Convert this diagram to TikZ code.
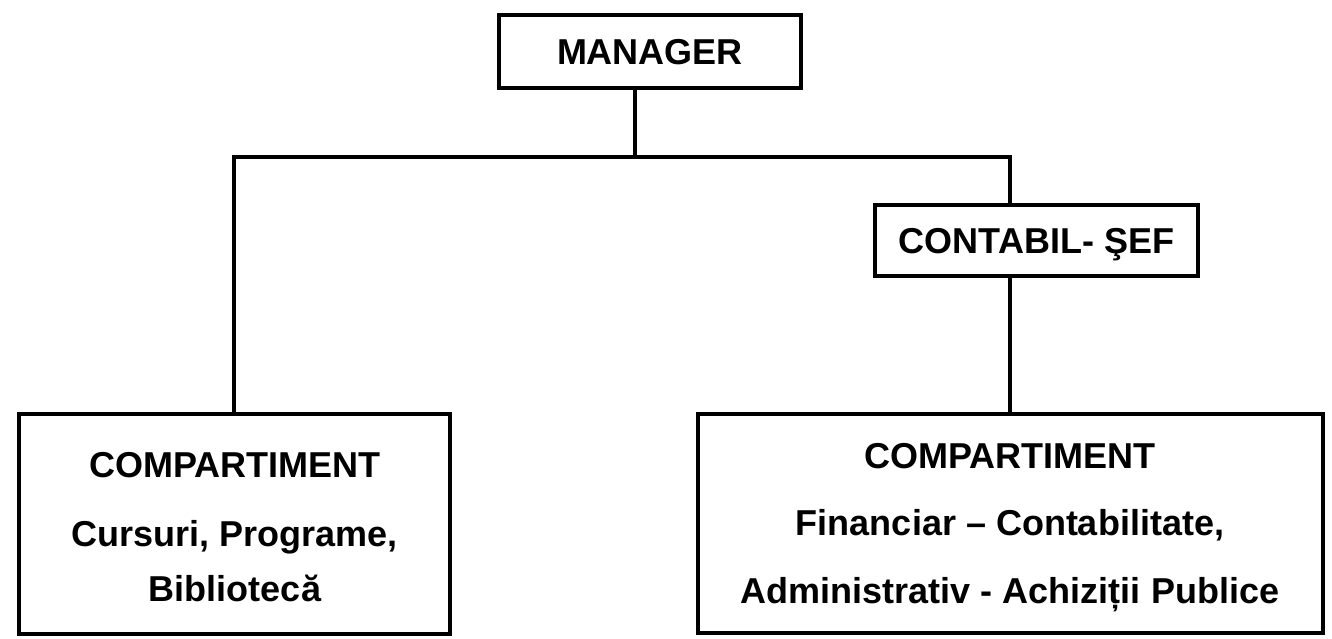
\documentclass[tikz,border=0pt]{standalone}
\usepackage{fontspec}
\setmainfont{Liberation Sans}
\tikzset{
  box/.style={draw, line width=3.4pt, inner sep=0pt, align=center, text height=26pt, text depth=0pt},
  txt/.style={anchor=base, inner sep=0pt},
  conn/.style={line width=3.6pt, line join=miter, line cap=rect},
  every node/.style={font=\fontsize{36}{40}\selectfont\bfseries}
}
\begin{document}
\begin{tikzpicture}[x=1pt,y=-1pt]
\useasboundingbox[fill=white] (0,0) rectangle (1332,639);
% boxes
\node[box, minimum width=302pt, minimum height=73pt] (manager) at (650,51.5) {MANAGER};
\node[box, minimum width=323pt, minimum height=71pt] (contabil) at (1036.5,240.5) {CONTABIL- ŞEF};
\node[box, minimum width=431pt, minimum height=220pt] (left) at (234.5,524) {};
\node[box, minimum width=625pt, minimum height=219pt] (right) at (1010.5,523.5) {};
% texts of the lower boxes
\node[txt] (l1) at (235,477) {COMPARTIMENT};
\node[txt] (l2) at (235,546) {Cursuri, Programe,};
\node[txt] (l3) at (235,601) {Bibliotecă};
\node[txt] (r1) at (1010,468) {COMPARTIMENT};
\node[txt] (r2) at (1010,535) {Financiar – Contabilitate,};
\node[txt] (r3) at (1010,603) {Administrativ - Achiziții Publice};
% junctions
\coordinate (j) at (635,157);
\coordinate (hl) at (234,157);
\coordinate (hr) at (1010,157);
% connectors
\draw[conn] (manager.south -| j) -- (j);
\draw[conn] (left.north -| hl) -- (hl) -- (hr) -- (contabil.north -| hr);
\draw[conn] (contabil.south -| hr) -- (right.north -| hr);
\end{tikzpicture}
\end{document}
